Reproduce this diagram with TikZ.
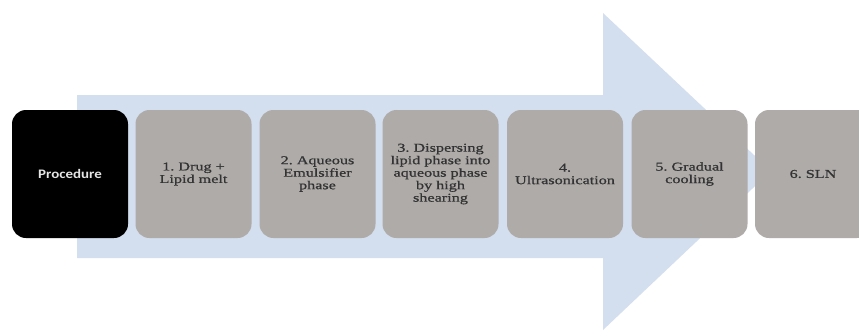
\documentclass[tikz,border=0pt]{standalone}
\usepackage{fontspec}
\setmainfont{Liberation Serif}[FakeStretch=1.35,FakeBold=0.8]
\newfontfamily\procfont{Carlito}[FakeStretch=1.15]
\definecolor{arrowblue}{HTML}{D3DEEE}
\definecolor{boxgray}{HTML}{AFABA9}
\definecolor{txtgray}{HTML}{333333}
\begin{document}
\frenchspacing
\begin{tikzpicture}[x=1pt,y=-1pt,
  stepbox/.style={fill=boxgray, rounded corners=14pt, minimum width=116pt, minimum height=128pt,
    inner sep=0pt, text width=113pt, align=center, font=\frenchspacing\fontsize{12}{12.5}\selectfont, text=txtgray},
  procbox/.style={stepbox, fill=black, text=white!90!black, font=\procfont\bfseries\fontsize{13}{14}\selectfont}]
\useasboundingbox (0,0) rectangle (859,332);
\clip (0,0) rectangle (859,332);
\fill[arrowblue] (77,95) -- (603,95) -- (603,13) -- (771,171) -- (603,330) -- (603,258) -- (77,258) -- cycle;
\node[procbox] (p) at (70,174) {Procedure};
\node[stepbox] (s1) at (193.5,174) {1. Drug +\\Lipid melt};
\node[stepbox] (s2) at (317.5,174) {2. Aqueous\\Emulsifier\\phase};
\node[stepbox] (s3) at (440.5,174) {3. Dispersing\\lipid phase into\\aqueous phase\\by high\\shearing};
\node[stepbox] (s4) at (565,174) {4.\\Ultrasonication};
\node[stepbox] (s5) at (689.5,174) {5. Gradual\\cooling};
\node[stepbox] (s6) at (813,174) {6. SLN};
\end{tikzpicture}
\end{document}
